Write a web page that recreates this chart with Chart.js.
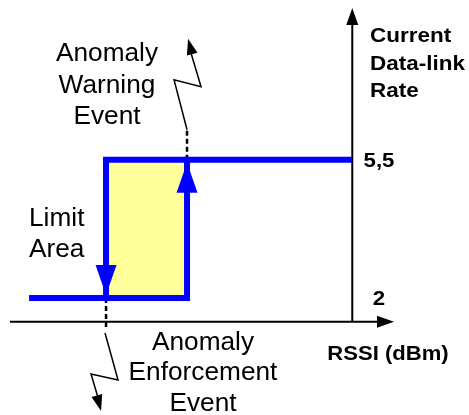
<!DOCTYPE html>
<html>
<head>
<meta charset="utf-8">
<script src="https://cdn.jsdelivr.net/npm/chart.js@4.4.1/dist/chart.umd.min.js"></script>
<style>
  html, body { margin: 0; padding: 0; background: #fff; }
  #wrap { width: 469px; height: 415px; }
</style>
</head>
<body>
<div id="wrap"><canvas id="chart"></canvas></div>
<script>
// Data-link rate levels and their tick labels
const rateLevels = [2, 5.5];
const rateLabels = ['2', '5,5'];
// RSSI thresholds (dBm): enforcement event, warning event
const rssiThresholds = [-90, -80];
// RSSI where the rate curve starts, and where the rate axis sits
const rssiStart = -99.5;
const rssiAxis = -59.6;
// rate value where the RSSI axis sits
const rateAxis = 1.4;

const [low, high] = rateLevels;
const [enf, warn] = rssiThresholds;

function arrowHead(ctx, fx, fy, tx, ty, len, w) {
  const a = Math.atan2(ty - fy, tx - fx);
  ctx.save();
  ctx.translate(tx, ty);
  ctx.rotate(a);
  ctx.beginPath();
  ctx.moveTo(0, 0);
  ctx.lineTo(-len, -w / 2);
  ctx.lineTo(-len, w / 2);
  ctx.closePath();
  ctx.fill();
  ctx.restore();
}

function text(ctx, s, x, y, align, font, sx) {
  ctx.save();
  ctx.font = font;
  ctx.textAlign = align;
  ctx.textBaseline = 'alphabetic';
  ctx.translate(x, y);
  ctx.scale(sx, 1);
  ctx.fillText(s, 0, 0);
  ctx.restore();
}

const decor = {
  id: 'decor',
  beforeDatasetsDraw(chart) {
    const { ctx, scales: { x, y } } = chart;
    const ax = x.getPixelForValue(rssiAxis);
    const ay = y.getPixelForValue(rateAxis);
    ctx.save();
    ctx.strokeStyle = '#000';
    ctx.fillStyle = '#000';
    ctx.lineWidth = 2;
    // RSSI axis
    ctx.beginPath();
    ctx.moveTo(10, ay);
    ctx.lineTo(380, ay);
    ctx.stroke();
    arrowHead(ctx, 10, ay, 394, ay, 17, 12);
    // rate axis
    ctx.beginPath();
    ctx.moveTo(ax, ay);
    ctx.lineTo(ax, 22);
    ctx.stroke();
    arrowHead(ctx, ax, ay, ax, 8, 17, 12);

    // dashed guides at the thresholds
    const ex = x.getPixelForValue(enf), wx = x.getPixelForValue(warn);
    ctx.setLineDash([5, 3]);
    ctx.lineWidth = 2.5;
    ctx.beginPath();
    ctx.moveTo(wx, y.getPixelForValue(high));
    ctx.lineTo(wx, y.getPixelForValue(high) - 30);
    ctx.moveTo(ex, y.getPixelForValue(low));
    ctx.lineTo(ex, y.getPixelForValue(low) + 29);
    ctx.stroke();
    ctx.restore();
  },
  afterDatasetsDraw(chart) {
    const { ctx, scales: { x, y } } = chart;
    const ex = x.getPixelForValue(enf), wx = x.getPixelForValue(warn);
    const ly = y.getPixelForValue(low), hy = y.getPixelForValue(high);
    ctx.save();
    // arrows on the rate curve
    ctx.fillStyle = '#0000FF';
    arrowHead(ctx, ex, ly - 40, ex, ly - 3, 30, 21);
    arrowHead(ctx, wx, hy + 40, wx, hy + 3, 30, 21);

    // lightning bolts
    ctx.strokeStyle = '#000';
    ctx.fillStyle = '#000';
    ctx.lineWidth = 1.5;
    const top = hy - 30;
    ctx.beginPath();
    ctx.moveTo(wx, top);
    ctx.lineTo(wx - 13, top - 50);
    ctx.lineTo(wx + 14, top - 43);
    ctx.lineTo(wx + 3, top - 80);
    ctx.stroke();
    arrowHead(ctx, wx + 14, top - 43, wx + 1, top - 91, 16, 11);
    const bot = ly + 35;
    ctx.beginPath();
    ctx.moveTo(ex - 1, bot);
    ctx.lineTo(ex + 12, bot + 47);
    ctx.lineTo(ex - 15, bot + 41);
    ctx.lineTo(ex - 7, bot + 68);
    ctx.stroke();
    arrowHead(ctx, ex - 15, bot + 41, ex - 5, bot + 78, 16, 11);

    // labels
    const reg = '25px "Liberation Sans", Arial, sans-serif';
    const bold = 'bold 21px "Liberation Sans", Arial, sans-serif';
    ctx.fillStyle = '#000';
    text(ctx, 'Anomaly', 107, 61, 'center', reg, 1.05);
    text(ctx, 'Warning', 107, 93, 'center', reg, 1.05);
    text(ctx, 'Event', 107, 124, 'center', reg, 1.05);
    text(ctx, 'Anomaly', 203, 350, 'center', reg, 1.05);
    text(ctx, 'Enforcement', 203, 380, 'center', reg, 1.05);
    text(ctx, 'Event', 203, 411, 'center', reg, 1.05);
    text(ctx, 'Limit', 29, 226, 'left', reg, 1.05);
    text(ctx, 'Area', 29, 257, 'left', reg, 1.05);
    text(ctx, 'Current', 370, 42, 'left', bold, 1.07);
    text(ctx, 'Data-link', 370, 69.5, 'left', bold, 1.07);
    text(ctx, 'Rate', 370, 97, 'left', bold, 1.07);
    text(ctx, 'RSSI (dBm)', 388, 360, 'center', bold, 1.05);
    rateLevels.forEach((v, i) => {
      text(ctx, rateLabels[i], 379, y.getPixelForValue(v) + 7, 'center', bold, 1.06);
    });
    ctx.restore();
  }
};

new Chart(document.getElementById('chart'), {
  type: 'scatter',
  data: {
    datasets: [
      {
        // limit area between the two thresholds
        data: [{ x: enf, y: high }, { x: warn, y: high }],
        showLine: true,
        borderWidth: 0,
        backgroundColor: '#FFFF99',
        fill: { value: low },
        pointRadius: 0,
        order: 3
      },
      {
        data: [{ x: rssiStart, y: low }, { x: warn, y: low }, { x: warn, y: high }, { x: rssiAxis, y: high }],
        showLine: true,
        borderColor: '#0000FF',
        borderWidth: 6,
        borderJoinStyle: 'miter',
        borderCapStyle: 'butt',
        pointRadius: 0,
        order: 1
      },
      {
        data: [{ x: warn, y: high }, { x: enf, y: high }, { x: enf, y: low }],
        showLine: true,
        borderColor: '#0000FF',
        borderWidth: 6,
        borderJoinStyle: 'miter',
        borderCapStyle: 'butt',
        pointRadius: 0,
        order: 1
      }
    ]
  },
  options: {
    responsive: true,
    maintainAspectRatio: false,
    animation: false,
    layout: { padding: 0 },
    plugins: { legend: { display: false }, tooltip: { enabled: false } },
    scales: {
      x: { type: 'linear', min: -103.09, max: -45.19, display: false },
      y: { type: 'linear', min: -0.961, max: 9.542, display: false }
    }
  },
  plugins: [decor]
});
</script>
</body>
</html>
